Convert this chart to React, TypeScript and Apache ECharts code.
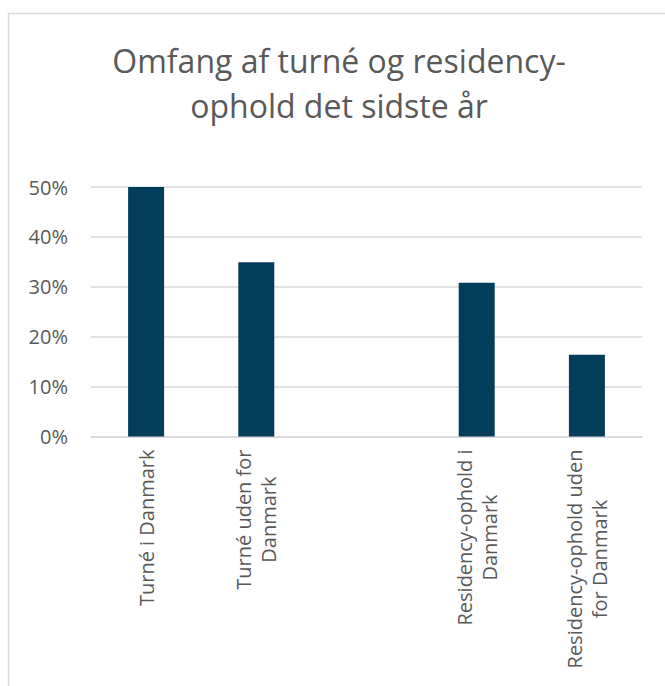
import React, { useEffect, useRef } from "react";
import * as echarts from "echarts";

const titleText = "Omfang af turné og residency-\nophold det sidste år";
const categories = [
  "Turné i Danmark",
  "Turné uden for\nDanmark",
  "",
  "Residency-ophold i\nDanmark",
  "Residency-ophold uden\nfor Danmark",
];
const values: (number | null)[] = [50, 34.9, null, 30.8, 16.4];
const yTicks = { min: 0, max: 50, interval: 10 };

export default function App() {
  const ref = useRef<HTMLDivElement>(null);
  useEffect(() => {
    if (!ref.current) return;
    const chart = echarts.init(ref.current, null, { renderer: "svg" });
    const font = "Open Sans";
    chart.setOption({
      animation: false,
      backgroundColor: "#ffffff",
      title: {
        text: titleText,
        left: 334,
        top: 33,
        textAlign: "center",
        textStyle: {
          fontFamily: font,
          fontSize: 32,
          fontWeight: "normal",
          color: "#595959",
          lineHeight: 45,
        },
      },
      graphic: [
        {
          type: "rect",
          shape: { x: 8.5, y: 13.5, width: 700, height: 700 },
          style: { fill: "none", stroke: "#d9d9d9", lineWidth: 1.5 },
          silent: true,
        },
      ],
      grid: { left: 91, right: 23, top: 187, bottom: 249.5, containLabel: false },
      xAxis: {
        type: "category",
        data: categories,
        axisLine: { lineStyle: { color: "#d9d9d9", width: 1.5 } },
        axisTick: { show: false },
        axisLabel: {
          interval: 0,
          rotate: 90,
          margin: 13,
          color: "#595959",
          fontFamily: font,
          fontSize: 20,
          formatter: (v: string) =>
            v
              .split("\n")
              .map((s) => "{c|" + s + "}")
              .join("\n"),
          rich: {
            c: {
              align: "center",
              fontFamily: font,
              fontSize: 20,
              color: "#595959",
              lineHeight: 25,
            },
          },
        },
      },
      yAxis: {
        type: "value",
        min: yTicks.min,
        max: yTicks.max,
        interval: yTicks.interval,
        axisLine: { show: false },
        axisTick: { show: false },
        splitLine: { lineStyle: { color: "#d9d9d9", width: 1.5 } },
        axisLabel: {
          formatter: "{value}%",
          margin: 23,
          color: "#595959",
          fontFamily: font,
          fontSize: 20,
        },
      },
      series: [
        {
          type: "bar",
          data: values,
          barWidth: 36,
          itemStyle: { color: "#033D5A" },
        },
      ],
    });
    return () => chart.dispose();
  }, []);
  return (
    <div
      ref={ref}
      style={{ position: "fixed", left: 0, top: 0, width: 665, height: 686 }}
    />
  );
}
